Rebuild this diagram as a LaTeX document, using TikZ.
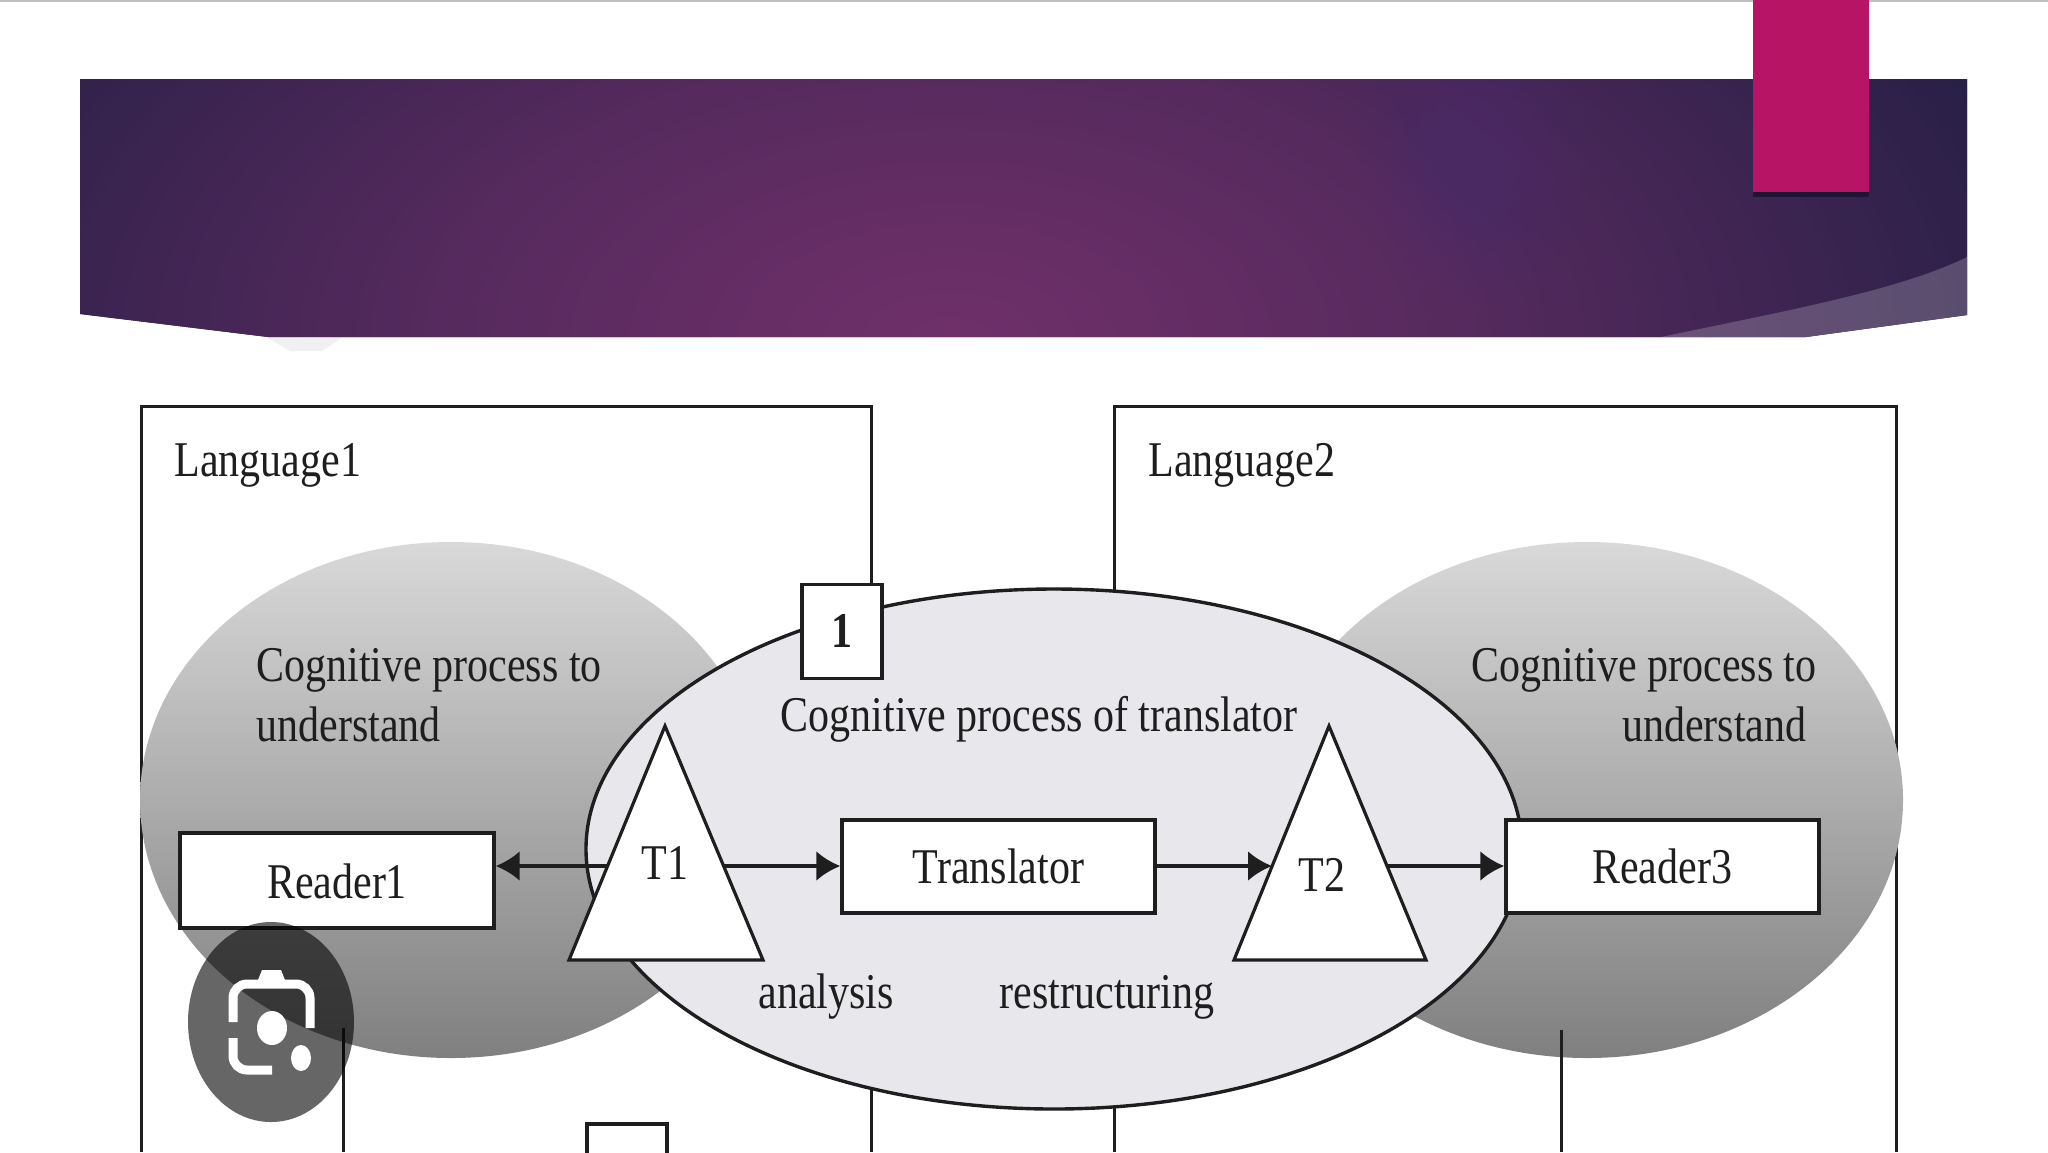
\documentclass[tikz,border=0pt]{standalone}
\usepackage{fontspec}
\setmainfont[FakeStretch=0.84]{Liberation Serif}
\usetikzlibrary{arrows.meta}
\definecolor{bannerA}{HTML}{70306A}
\definecolor{bannerB}{HTML}{562A5E}
\definecolor{bannerC}{HTML}{261F46}
\definecolor{spotc}{HTML}{4A2C70}
\definecolor{pinkbar}{HTML}{B81465}
\definecolor{ink}{HTML}{1E1E1E}
\definecolor{centerfill}{HTML}{E8E8EC}
\pgfdeclareradialshading{bannerglow}{\pgfpoint{0bp}{0bp}}{color(0bp)=(bannerA); color(11bp)=(bannerB); color(25bp)=(bannerC); color(50bp)=(bannerC)}
\tikzset{
  x=0.5pt,y=-0.5pt,
  frame/.style={draw=ink,line width=1.5pt},
  grayblob/.style={top color=black!15,bottom color=black!50,draw=none},
  whitebox/.style={draw=ink,fill=white,line width=1.7pt,inner sep=0pt},
  label/.style={text=ink,font=\fontsize{25}{30}\selectfont,inner sep=0pt,anchor=base west},
  labelc/.style={label,anchor=base},
  labelr/.style={label,anchor=base east},
  tri/.style={draw=ink,fill=white,line width=1.6pt,line join=miter},
  conn/.style={draw=ink,line width=1.8pt,-{Latex[length=12pt,width=15pt]}},
  iconline/.style={draw=white,line width=4.5pt,line cap=butt,rounded corners=7pt},
}
\begin{document}
\begin{tikzpicture}
\useasboundingbox (0,0) rectangle (2048,1152);
\fill[white] (0,0) rectangle (2048,1152);
\fill[black!25] (0,0) rectangle (2048,2);
% banner
\begin{scope}
\clip (80,79) -- (1967,79) -- (1967,315) -- (1806,337) -- (268,337) -- (80,314) -- cycle;
\fill[bannerC] (0,0) rectangle (2048,400);
\shade[shading=bannerglow] (950,340) ellipse [x radius=1150,y radius=640];
\foreach \r in {10,...,1}{
  \fill[spotc,opacity=0.07] (1476,143) ellipse [x radius=12*\r, y radius=16*\r];
}
\fill[white,opacity=0.2] (1661,337) .. controls (1790,310) and (1900,290) .. (1967,257) -- (1967,340) -- (1661,340) -- cycle;
\end{scope}
\fill[black!6] (268,338) -- (342,338) -- (322,351) -- (290,351) -- cycle;
\fill[bannerC!70!black] (1753,190) rectangle (1869,197);
\fill[pinkbar] (1753,0) rectangle (1869,192);
% language frames
\draw[frame] (141,1152) -- (141,406) -- (871,406) -- (871,1152);
\draw[frame] (1114,1152) -- (1114,406) -- (1896,406) -- (1896,1152);
\node[label] (lang1) at (174,476) {Language1};
\node[label] (lang2) at (1148,476) {Language2};
% readers' ellipses
\path[grayblob] (451,800) ellipse [x radius=311,y radius=258];
\path[grayblob] (1587,800) ellipse [x radius=316,y radius=258];
% free vertical lines
\coordinate (leftTop) at (343,1028);
\coordinate (leftEnd) at (343,1152);
\coordinate (rightTop) at (1561,1030);
\coordinate (rightEnd) at (1561,1152);
\draw[frame] (leftTop) -- (leftEnd);
\draw[frame] (rightTop) -- (rightEnd);
% translator ellipse
\draw[draw=ink,fill=centerfill,line width=1.7pt] (1054,849) ellipse [x radius=468,y radius=260];
\node[whitebox,minimum width=40pt,minimum height=47pt] (one) at (842,631.5) {};
\node[labelc,font=\fontsize{25}{30}\selectfont\bfseries] at (842,647) {1};
\node[labelc] (cogT) at (1039,731) {Cognitive process of translator};
\node[label] (cogL1) at (256,681) {Cognitive process to};
\node[label] (cogL2) at (256,741) {understand};
\node[labelr] (cogR1) at (1817,681) {Cognitive process to};
\node[labelr] (cogR2) at (1807,741) {understand};
% boxes
\node[whitebox,minimum width=157pt,minimum height=47.5pt] (reader1) at (337,880.5) {};
\node[labelc] at (337,898) {Reader1};
\node[whitebox,minimum width=156.5pt,minimum height=46.5pt] (translator) at (998.5,866.5) {};
\node[labelc] at (998.5,883) {Translator};
\node[whitebox,minimum width=156.5pt,minimum height=46.5pt] (reader3) at (1662.5,866.5) {};
\node[labelc] at (1662,883) {Reader3};
% triangles
\draw[tri] (665,726) -- (763,960) -- (569,960) -- cycle;
\draw[tri] (1329,726) -- (1426,960) -- (1234,960) -- cycle;
\coordinate (t1l) at (607,866);
\coordinate (t1r) at (723,866);
\coordinate (t2l) at (1272,866);
\coordinate (t2r) at (1386,866);
\node[labelc] (T1) at (665,879) {T1};
\node[labelc] (T2) at (1322,891) {T2};
\node[labelc] (analysis) at (826,1008) {analysis};
\node[labelc] (restr) at (1107,1008) {restructuring};
% connectors
\draw[conn] (t1l) -- (reader1.east |- t1l);
\draw[conn] (t1r) -- (translator.west |- t1r);
\draw[conn] (translator.east |- t2l) -- (t2l);
\draw[conn] (t2r) -- (reader3.west |- t2r);
% lower box
\node[whitebox,minimum width=40pt,minimum height=47pt] (two) at (627,1171) {};
% camera badge
\fill[black,opacity=0.6] (271,1022) ellipse [x radius=83,y radius=100];
\fill[white] (258,980) -- (262,970) -- (281,970) -- (285,980) -- cycle;
\draw[iconline] (233,1022) -- (233,984) -- (310,984) -- (310,1028);
\draw[iconline] (233,1038) -- (233,1070) -- (272,1070);
\fill[white] (272,1028) ellipse [x radius=15,y radius=17];
\fill[white] (301,1058) ellipse [x radius=10,y radius=13];
\end{tikzpicture}
\end{document}
